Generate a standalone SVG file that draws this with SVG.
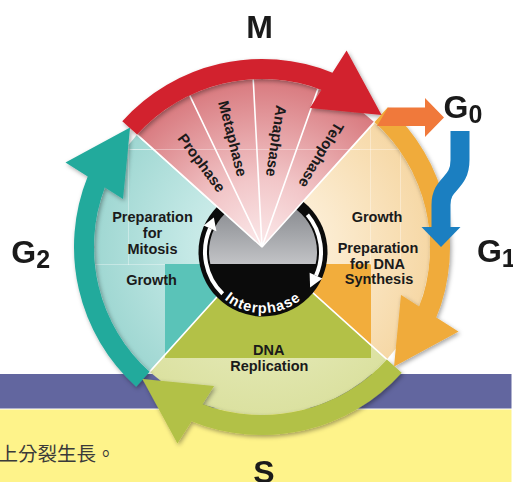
<svg xmlns="http://www.w3.org/2000/svg" width="513" height="482" viewBox="0 0 513 482">
<style>
  .t{font-family:"Liberation Sans",Arial,Helvetica,sans-serif;font-weight:bold;fill:#1a1a1a}
  .lbl{font-size:14.5px;text-anchor:middle}
  .ph{font-size:15px;text-anchor:middle}
  .big{font-size:32px}
  .sub{font-size:25px}
  .sep{stroke:#ffffff;stroke-width:1.6;fill:none}
  .warc{stroke:#ffffff;stroke-width:4;fill:none}
  .grid{stroke:#ffffff;stroke-width:1;stroke-opacity:0.35;fill:none}
  .cjk{font-family:"Noto Sans CJK TC","Noto Sans CJK SC",sans-serif;font-size:19.5px;fill:#3a3a3a}
</style>
<defs>
  <radialGradient id="gM" gradientUnits="userSpaceOnUse" cx="262" cy="247" r="168">
    <stop offset="0" stop-color="#fbe9ea"/>
    <stop offset="0.4" stop-color="#f2c7c9"/>
    <stop offset="1" stop-color="#d8797e"/>
  </radialGradient>
  <radialGradient id="gG2" gradientUnits="userSpaceOnUse" cx="262" cy="247" r="168">
    <stop offset="0" stop-color="#e2f4f2"/>
    <stop offset="0.45" stop-color="#c3e8e5"/>
    <stop offset="1" stop-color="#9fd7d2"/>
  </radialGradient>
  <radialGradient id="gG1" gradientUnits="userSpaceOnUse" cx="262" cy="247" r="168">
    <stop offset="0" stop-color="#fff7ea"/>
    <stop offset="0.45" stop-color="#fbeacd"/>
    <stop offset="1" stop-color="#f6d8a6"/>
  </radialGradient>
  <radialGradient id="gS" gradientUnits="userSpaceOnUse" cx="262" cy="247" r="168">
    <stop offset="0" stop-color="#eef1cf"/>
    <stop offset="1" stop-color="#dbe1a0"/>
  </radialGradient>
  <linearGradient id="gGray" gradientUnits="userSpaceOnUse" x1="0" y1="195" x2="0" y2="264">
    <stop offset="0" stop-color="#7f8186"/>
    <stop offset="0.55" stop-color="#a2a4a8"/>
    <stop offset="1" stop-color="#c2c3c6"/>
  </linearGradient>
  <clipPath id="satClip"><rect x="165" y="264" width="206" height="94"/></clipPath>
  <clipPath id="wheelClip"><circle cx="262" cy="247" r="168"/></clipPath>
  <!-- one quarter ring arrow (M quadrant); the others are rotated copies -->
  <path id="ringArrow" d="M122.29,121.2 A188,188 0 0 1 332.43,72.69 L346.6,50.5 L381.6,115.1 L309.9,108 L321.46,89.89 A168,168 0 0 0 137.15,134.59 Z"/>
  <path id="interPath" d="M213.03,286.99 A61,61 0 0 0 312.97,286.99"/>
  <filter id="shadow" x="-20%" y="-20%" width="140%" height="140%">
    <feDropShadow dx="1.5" dy="2" stdDeviation="2" flood-color="#000000" flood-opacity="0.35"/>
  </filter>
</defs>

<!-- page background -->
<rect x="0" y="0" width="513" height="482" fill="#ffffff"/>
<rect x="0" y="374" width="511.5" height="34.5" fill="#62669f"/>
<rect x="0" y="409.5" width="511.5" height="72.5" fill="#fef38a"/>
<text class="cjk" x="-1.5" y="461">上分裂生長。</text>

<!-- G2 sector -->
<g id="sector-g2">
  <path d="M262,247 L137.15,134.59 A168,168 0 0 0 149.59,371.85 Z" fill="url(#gG2)"/>
  <path d="M262,247 L137.15,134.59 A168,168 0 0 0 149.59,371.85 Z" fill="#5ac3b8" clip-path="url(#satClip)"/>
</g>

<!-- S sector -->
<g id="sector-s">
  <path d="M262,247 L149.59,371.85 A168,168 0 0 0 386.85,359.41 Z" fill="url(#gS)"/>
  <path d="M262,247 L149.59,371.85 A168,168 0 0 0 386.85,359.41 Z" fill="#b3c147" clip-path="url(#satClip)"/>
</g>

<!-- G1 sector -->
<g id="sector-g1">
  <path d="M262,247 L386.85,359.41 A168,168 0 0 0 374.41,122.15 Z" fill="url(#gG1)"/>
  <path d="M262,247 L386.85,359.41 A168,168 0 0 0 374.41,122.15 Z" fill="#f2ad3c" clip-path="url(#satClip)"/>
</g>

<!-- faint tile seams across the wheel face -->
<g id="wheel-seams" clip-path="url(#wheelClip)">
  <path class="grid" d="M95,149.5 H430 M370.5,112 V265 M400.5,149.5 V265 M128.5,127 V265 M95,264.5 H165"/>
</g>

<!-- sector borders -->
<g id="sector-borders">
  <path class="sep" d="M262,247 L137.15,134.59 M262,247 L149.59,371.85 M262,247 L386.85,359.41 M262,247 L374.41,122.15"/>
</g>

<g id="sector-labels">
  <text class="t lbl" x="152.5" y="222">Preparation</text>
  <text class="t lbl" x="152.5" y="238">for</text>
  <text class="t lbl" x="152.5" y="254">Mitosis</text>
  <text class="t lbl" x="151.5" y="284.5">Growth</text>
  <text class="t lbl" x="377" y="221.5">Growth</text>
  <text class="t lbl" x="378" y="253">Preparation</text>
  <text class="t lbl" x="377.5" y="268.5">for DNA</text>
  <text class="t lbl" x="379" y="284">Synthesis</text>
  <text class="t lbl" x="268.7" y="355">DNA</text>
  <text class="t lbl" x="269.3" y="370.5">Replication</text>
</g>

<!-- interphase hub -->
<g id="interphase">
  <circle cx="263" cy="252" r="64.5" fill="#0b0b0b"/>
  <path d="M210.35,264 A54,54 0 1 1 315.65,264 Z" fill="url(#gGray)"/>
  <path class="warc" d="M222.71,293.72 A58,58 0 0 1 210.02,228.41"/>
  <polygon points="216.41,231.26 203.62,225.56 213.85,217.58" fill="#ffffff"/>
  <path class="warc" d="M307.43,214.72 A58,58 0 0 1 315.98,275.59"/>
  <polygon points="309.59,272.74 322.38,278.44 310.12,287.51" fill="#ffffff"/>
  <text class="t" style="font-size:14.5px;fill:#ffffff;letter-spacing:1px"><textPath href="#interPath" startOffset="50%" text-anchor="middle">Interphase</textPath></text>
</g>

<!-- M sector (mitosis phases) -->
<g id="sector-m">
  <path d="M262,247 L374.41,122.15 A168,168 0 0 0 137.15,134.59 Z" fill="url(#gM)"/>
  <path class="grid" d="M130,149.5 H360" clip-path="url(#wheelClip)"/>
  <path class="sep" d="M262,247 L189.68,95.36 M262,247 L253.21,79.23 M262,247 L318.08,88.64" stroke-width="2"/>
  <path class="sep" d="M262,247 L137.15,134.59 M262,247 L374.41,122.15"/>
  <text class="t ph" transform="translate(201.5,163) rotate(53.25)" y="5">Prophase</text>
  <text class="t ph" transform="translate(232.5,138.5) rotate(75.75)" y="5">Metaphase</text>
  <text class="t ph" transform="translate(276,141) rotate(98.25)" y="5">Anaphase</text>
  <text class="t ph" transform="translate(321,155) rotate(120.75)" y="5">Telophase</text>
</g>

<!-- connectors: cycle arrows and G0 exit/return -->
<g id="connectors">
  <g filter="url(#shadow)">
    <use href="#ringArrow" fill="#23aa9c" transform="rotate(270 262 247)"/>
    <use href="#ringArrow" fill="#b2c146" transform="rotate(180 262 247)"/>
    <use href="#ringArrow" fill="#f0ab3b" transform="rotate(90 262 247)"/>
    <use href="#ringArrow" fill="#d2232d"/>
  </g>
  <polygon points="377,126 388,107.5 425,107.5 425,98 444,117.5 425,137 425,126" fill="#f0793b"/>
  <path d="M460,131 V160 C460,185 441,182 441,205 V228" fill="none" stroke="#1b7fc1" stroke-width="19"/>
  <polygon points="421.5,227 460.5,227 441,247" fill="#1b7fc1"/>
</g>

<!-- phase names -->
<g id="label-m"><text class="t big" x="259.7" y="38.3" text-anchor="middle">M</text></g>
<g id="label-g0"><text class="t big" x="443.6" y="118.3">G<tspan class="sub" dy="5">0</tspan></text></g>
<g id="label-g1"><text class="t big" x="476.9" y="261.7">G<tspan class="sub" dy="5">1</tspan></text></g>
<g id="label-g2"><text class="t big" x="11.3" y="263.3">G<tspan class="sub" dy="5">2</tspan></text></g>
<g id="label-s"><text class="t big" x="264" y="482.5" text-anchor="middle">S</text></g>
</svg>
